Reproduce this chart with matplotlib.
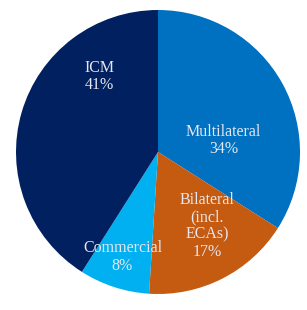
import matplotlib
matplotlib.use("Agg")
import matplotlib.pyplot as plt

# Data
labels = ["Multilateral\n34%", "Bilateral\n(incl.\nECAs)\n17%", "Commercial\n8%", "ICM\n41%"]
shares = [34, 17, 8, 41]
colors = ["#0070C0", "#C55A11", "#00B0F0", "#002060"]
# label positions as fractions of the radius
label_pos = [(0.46, 0.08), (0.345, -0.52), (-0.25, -0.74), (-0.41, 0.53)]

W, H = 307, 310
cx, cy, r = 158, 152, 142  # pie centre / radius in pixels

fig = plt.figure(figsize=(W / 100, H / 100), dpi=100)
ax = fig.add_axes([(cx - r) / W, (H - cy - r) / H, 2 * r / W, 2 * r / H])

ax.pie(shares, colors=colors, startangle=90, counterclock=False,
       wedgeprops=dict(linewidth=0))
ax.set_xlim(-1, 1)
ax.set_ylim(-1, 1)
ax.axis("off")

for lab, (x, y) in zip(labels, label_pos):
    ax.text(x, y, lab, ha="center", va="center", fontsize=11.5,
            family="Liberation Serif", color="#e6e6ee", linespacing=1.1)

fig.savefig("out.png", dpi=100)
